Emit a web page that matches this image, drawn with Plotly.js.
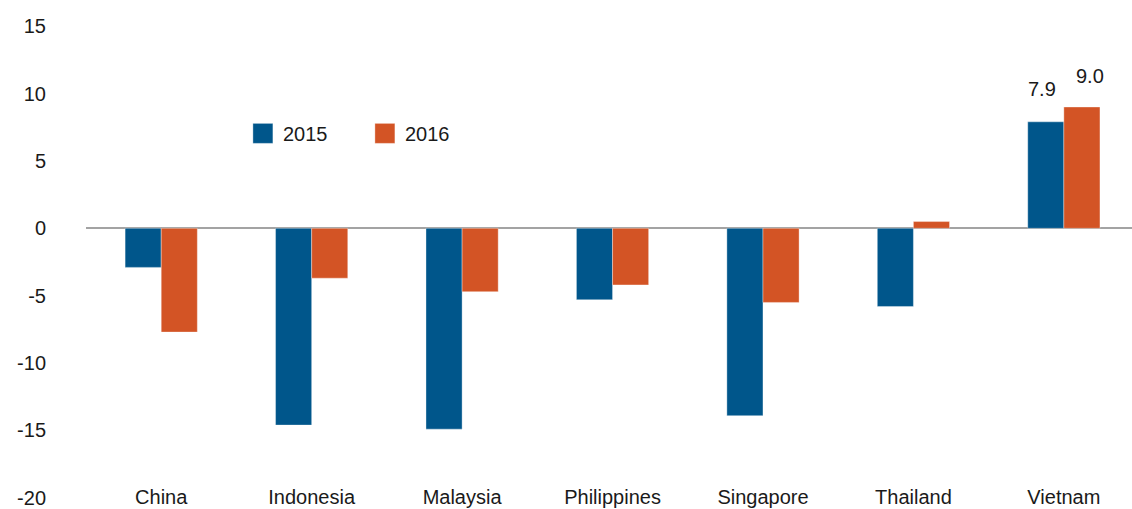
<!DOCTYPE html>
<html>
<head>
<meta charset="utf-8">
<script src="https://cdn.plot.ly/plotly-3.0.1.min.js"></script>
<style>
  html, body { margin: 0; padding: 0; background: #ffffff; }
  #chart { width: 1132px; height: 509px; }
</style>
</head>
<body>
<div id="chart"></div>
<script>
const categories = ["China", "Indonesia", "Malaysia", "Philippines", "Singapore", "Thailand", "Vietnam"];
const values2015 = [-2.9, -14.6, -14.9, -5.3, -13.9, -5.8, 7.9];
const values2016 = [-7.7, -3.7, -4.7, -4.2, -5.5, 0.5, 9.0];
const seriesNames = ["2015", "2016"];
const yTicks = [-20, -15, -10, -5, 0, 5, 10, 15];
const labelledCategory = "Vietnam";

const FONT = "'Liberation Sans Narrow', 'Arial Narrow', 'Liberation Sans', sans-serif";
const FS = 19;
const BLUE = "#00568b";
const ORANGE = "#d35425";
const TXT = "#1a1a1a";

const traces = [
  { type: "bar", name: seriesNames[0], x: categories, y: values2015,
    marker: { color: BLUE, line: { color: "rgba(255,255,255,0.35)", width: 1 } }, hoverinfo: "x+y" },
  { type: "bar", name: seriesNames[1], x: categories, y: values2016,
    marker: { color: ORANGE, line: { color: "rgba(255,255,255,0.35)", width: 1 } }, hoverinfo: "x+y" }
];

const li = categories.indexOf(labelledCategory);
const annotations = [
  { x: labelledCategory, y: values2015[li], text: values2015[li].toFixed(1), xshift: -22, yshift: 33 },
  { x: labelledCategory, y: values2016[li], text: values2016[li].toFixed(1), xshift: 26, yshift: 31 }
].map(a => Object.assign(a, { xref: "x", yref: "y", showarrow: false, yanchor: "middle",
  font: { family: FONT, size: FS + 1, color: TXT } }));

const layout = {
  width: 1132, height: 509,
  margin: { l: 86, r: 0, t: 25.5, b: 11, pad: 0 },
  paper_bgcolor: "#ffffff", plot_bgcolor: "#ffffff",
  font: { family: FONT, size: FS, color: TXT },
  barmode: "group", bargap: 0.52, bargroupgap: 0,
  showlegend: true,
  legend: { orientation: "h", x: 0.15, xanchor: "left", y: 0.7725, yanchor: "middle",
    entrywidth: 77, entrywidthmode: "pixels", bgcolor: "rgba(0,0,0,0)",
    font: { family: FONT, size: FS + 1, color: TXT } },
  xaxis: { type: "category", range: [-0.5, 6.453], showgrid: false, showline: false, zeroline: false,
    ticks: "", ticklabelposition: "outside", ticklabelstandoff: -15, ticklabeloverflow: "allow",
    fixedrange: true, tickfont: { family: FONT, size: FS + 1, color: TXT } },
  yaxis: { range: [-20.01, 15.01], tickvals: yTicks, ticktext: yTicks.map(String),
    showgrid: false, showline: false, zeroline: true, zerolinecolor: "#a3a3a3", zerolinewidth: 2,
    ticks: "", ticklabelstandoff: 39, ticklabeloverflow: "allow", fixedrange: true,
    tickfont: { family: FONT, size: FS + 1, color: TXT } },
  annotations: annotations
};

Plotly.newPlot("chart", traces, layout, { displayModeBar: false, staticPlot: true }).then(function (gd) {
  // enlarge legend swatches to match reference
  gd.querySelectorAll(".legend .legendpoints path").forEach(function (p) {
    p.setAttribute("d", "M10,10H-10V-10H10Z");
  });
});
</script>
</body>
</html>
